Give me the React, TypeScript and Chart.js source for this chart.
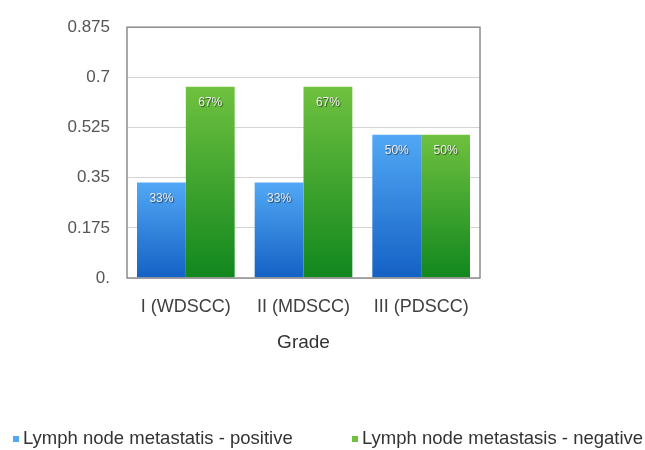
import React, { useEffect, useRef } from "react";
import { Chart, registerables } from "chart.js";

Chart.register(...registerables);

const categories = ["I (WDSCC)", "II (MDSCC)", "III (PDSCC)"];
const positiveValues = [0.333, 0.333, 0.5];
const negativeValues = [0.667, 0.667, 0.5];
const positiveLabels = ["33%", "33%", "50%"];
const negativeLabels = ["67%", "67%", "50%"];
const seriesNames = ["Lymph node metastatis - positive", "Lymph node metastasis - negative"];
const yTickValues = [0, 0.175, 0.35, 0.525, 0.7, 0.875];
const yTickLabels = ["0.", "0.175", "0.35", "0.525", "0.7", "0.875"];
const xTitle = "Grade";

const FONT = "'Liberation Sans', Arial, sans-serif";

const gradientStops = [
  ["#52a8f5", "#1461c4"],
  ["#6fc13f", "#11871e"],
];

function makeBg(dsIndex: number) {
  return (ctx: any) => {
    const chart = ctx.chart;
    const area = chart.chartArea;
    const [top, bottom] = gradientStops[dsIndex];
    if (!area || ctx.type !== "data") return top;
    const yScale = chart.scales.y;
    const v = ctx.raw as number;
    const yTop = yScale.getPixelForValue(v);
    const yBot = yScale.getPixelForValue(0);
    if (!isFinite(yTop) || !isFinite(yBot) || yTop === yBot) return top;
    const g = chart.ctx.createLinearGradient(0, yTop, 0, yBot);
    g.addColorStop(0, top);
    g.addColorStop(1, bottom);
    return g;
  };
}

const valueLabelPlugin = {
  id: "valueLabels",
  afterDatasetsDraw(chart: any) {
    const ctx = chart.ctx;
    const lists = [positiveLabels, negativeLabels];
    ctx.save();
    ctx.font = `12px ${FONT}`;
    ctx.textAlign = "center";
    ctx.textBaseline = "middle";
    chart.data.datasets.forEach((_: any, di: number) => {
      const meta = chart.getDatasetMeta(di);
      meta.data.forEach((bar: any, i: number) => {
        ctx.shadowColor = "rgba(0,0,0,0.55)";
        ctx.shadowOffsetX = 1;
        ctx.shadowOffsetY = 1;
        ctx.shadowBlur = 1;
        ctx.fillStyle = "#eeeeee";
        ctx.fillText(lists[di][i], bar.x, bar.y + 16);
      });
    });
    ctx.restore();
  },
};

const borderPlugin = {
  id: "plotBorder",
  afterDatasetsDraw(chart: any) {
    const { ctx, chartArea: a } = chart;
    ctx.save();
    ctx.strokeStyle = "#8c8c8c";
    ctx.lineWidth = 1.5;
    ctx.strokeRect(a.left, a.top, a.right - a.left, a.bottom - a.top);
    ctx.restore();
  },
};

const legendPlugin = {
  id: "customLegend",
  afterDraw(chart: any) {
    const ctx = chart.ctx;
    const xs = [13, 352];
    const y = 439;
    ctx.save();
    ctx.font = `18.5px ${FONT}`;
    ctx.textBaseline = "middle";
    ctx.textAlign = "left";
    chart.data.datasets.forEach((ds: any, i: number) => {
      ctx.fillStyle = gradientStops[i][0];
      ctx.fillRect(xs[i], y - 3, 6, 6);
      ctx.fillStyle = "#333333";
      ctx.fillText(ds.label, xs[i] + 10, y);
    });
    ctx.restore();
  },
};

export default function App() {
  const ref = useRef<HTMLCanvasElement>(null);
  useEffect(() => {
    if (!ref.current) return;
    const chart = new Chart(ref.current, {
      type: "bar",
      data: {
        labels: categories,
        datasets: [
          { label: seriesNames[0], data: positiveValues, backgroundColor: makeBg(0) as any, borderWidth: 0 },
          { label: seriesNames[1], data: negativeValues, backgroundColor: makeBg(1) as any, borderWidth: 0 },
        ],
      },
      options: {
        animation: false,
        responsive: true,
        maintainAspectRatio: false,
        layout: { padding: { left: 0, right: 165, top: 20, bottom: 0 } },
        datasets: { bar: { categoryPercentage: 0.83, barPercentage: 1 } },
        plugins: { legend: { display: false }, tooltip: { enabled: false } },
        scales: {
          x: {
            grid: { display: false, drawTicks: false },
            border: { display: false },
            ticks: { padding: 18, color: "#404040", font: { family: FONT, size: 18 } },
            title: {
              display: true,
              text: xTitle,
              color: "#333333",
              font: { family: FONT, size: 19 },
              padding: { top: 0, bottom: 96 },
            },
            afterFit(scale: any) {
              scale.height = 172;
            },
          },
          y: {
            min: 0,
            max: 0.875,
            afterBuildTicks(scale: any) {
              scale.ticks = yTickValues.map((v) => ({ value: v }));
            },
            ticks: {
              padding: 17,
              color: "#555555",
              font: { family: FONT, size: 17 },
              callback: (_v: any, i: number) => yTickLabels[i],
            },
            grid: { color: "#d4d4d4", lineWidth: 1, drawTicks: false },
            border: { display: false },
            afterFit(scale: any) {
              scale.width = 127;
            },
          },
        },
      },
      plugins: [borderPlugin, valueLabelPlugin, legendPlugin],
    });
    return () => chart.destroy();
  }, []);
  return (
    <div style={{ position: "fixed", left: 0, top: 0, width: 645, height: 450, background: "#fff" }}>
      <canvas ref={ref} />
    </div>
  );
}
